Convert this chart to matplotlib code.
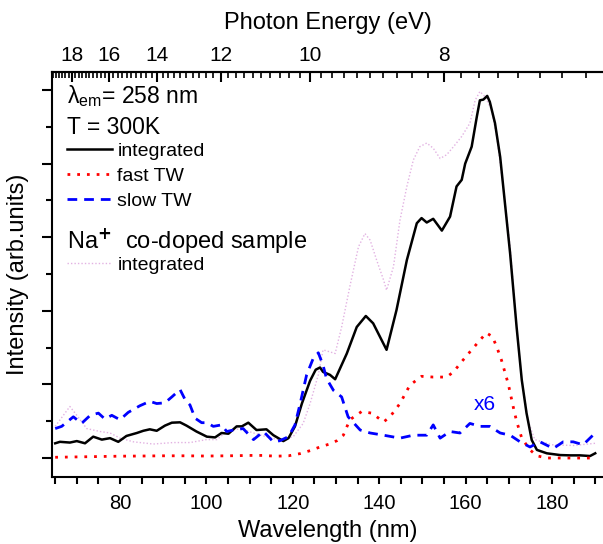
import matplotlib
matplotlib.use('Agg')
import matplotlib.pyplot as plt
import numpy as np
from matplotlib.ticker import MultipleLocator, FixedLocator, NullFormatter
from matplotlib.lines import Line2D

plt.rcParams['font.family'] = ['Liberation Sans', 'DejaVu Sans']
plt.rcParams['mathtext.fontset'] = 'custom'
plt.rcParams['mathtext.rm'] = 'Liberation Sans'
plt.rcParams['mathtext.it'] = 'Liberation Sans'

# integrated (black)
bx = [65, 66.1, 68.4, 70, 71.9, 73.8, 75.8, 77.7, 79.6, 81.5, 83.9, 85.4, 86.9, 88.5, 90.4,
      92, 93.9, 95.4, 97.7, 100.1, 102, 103.5, 105.1, 107, 108.2, 109.7, 111.6, 113.9, 115.5, 117.8,
      119, 120.5, 122.1, 124, 125.3, 126.3, 127, 128.6, 129.8, 132.5, 134.8, 136.9, 138.6, 141.7, 144,
      146.4, 148.7, 149.8, 151, 152.5, 154.5, 156.4, 157.9, 159.1, 159.9, 161.4, 162.6, 163.3, 164.1, 165,
      165.6, 166.8, 168, 170.3, 171.8, 173, 174.1, 175.3, 176.5, 178.8, 181.9, 184.2, 186.5, 188.8, 190]
by = [0.20, 0.22, 0.21, 0.23, 0.20, 0.29, 0.25, 0.27, 0.22, 0.30, 0.34, 0.37, 0.39, 0.37, 0.44,
      0.48, 0.485, 0.44, 0.36, 0.29, 0.28, 0.34, 0.33, 0.43, 0.43, 0.48, 0.38, 0.39, 0.31, 0.23,
      0.27, 0.43, 0.74, 1.05, 1.20, 1.23, 1.17, 1.13, 1.07, 1.42, 1.78, 1.93, 1.83, 1.47, 2.01,
      2.69, 3.19, 3.26, 3.20, 3.25, 3.09, 3.28, 3.69, 3.78, 4.0, 4.23, 4.64, 4.86, 4.87, 4.92,
      4.84, 4.55, 4.09, 2.78, 1.78, 1.06, 0.61, 0.245, 0.11, 0.064, 0.04, 0.036, 0.036, 0.027, 0.064]

# fast TW (red)
rx = [65, 70, 75, 80, 85, 90, 95, 100, 105, 110, 113, 116, 119, 121.7, 124,
      126.3, 128.5, 130.2, 131.7, 133.2, 135.9, 138.3, 141, 142.5, 144.8, 147.1, 149.8, 152.5, 155.6, 157.2,
      159.1, 161.4, 163.3, 164.8, 166.2, 167.2, 168.3, 169.9, 171, 171.8, 173, 174.9, 176.5, 178.8, 182,
      186, 190]
ry = [0.01, 0.015, 0.02, 0.025, 0.027, 0.03, 0.03, 0.027, 0.03, 0.035, 0.035, 0.025, 0.03, 0.06, 0.10,
      0.15, 0.19, 0.235, 0.31, 0.52, 0.63, 0.61, 0.49, 0.56, 0.74, 0.99, 1.11, 1.10, 1.10, 1.17,
      1.31, 1.47, 1.60, 1.70, 1.65, 1.51, 1.33, 1.0, 0.7, 0.5, 0.27, 0.11, 0.03, 0.0, 0.0,
      0.0, 0.0]

# slow TW x6 (blue)
ux = [65, 66.5, 69.2, 71.1, 73.1, 75, 76.5, 78.1, 80, 81.9, 84.6, 86.9, 88.5, 90.4, 92,
      93.9, 95.1, 96.2, 97.4, 98.9, 100.1, 101.6, 103.5, 104.7, 106.2, 108.5, 110.9, 113.2, 115.5, 117,
      119, 120.5, 121.7, 123.2, 124.7, 125.9, 127, 127.8, 129.4, 131.3, 132.8, 135.6, 137.9, 141, 144.8,
      147.9, 151, 152.5, 154.1, 156.4, 158.7, 161, 163.3, 165.6, 168, 170.3, 172.6, 174.9, 177.2, 180.3,
      182.6, 184.9, 187.2, 190]
uy = [0.40, 0.43, 0.56, 0.47, 0.58, 0.61, 0.53, 0.58, 0.52, 0.62, 0.71, 0.77, 0.74, 0.75, 0.83,
      0.93, 0.79, 0.72, 0.54, 0.48, 0.48, 0.43, 0.45, 0.36, 0.38, 0.40, 0.25, 0.36, 0.22, 0.235,
      0.29, 0.45, 0.74, 1.13, 1.35, 1.43, 1.26, 1.08, 0.92, 0.83, 0.56, 0.38, 0.34, 0.31, 0.27,
      0.31, 0.31, 0.45, 0.27, 0.36, 0.34, 0.47, 0.43, 0.43, 0.34, 0.31, 0.22, 0.15, 0.22, 0.13,
      0.22, 0.22, 0.18, 0.34]

# Na+ co-doped integrated (pink)
px = [65, 68.4, 70, 72.3, 75.4, 77.7, 80, 83.1, 87.7, 92.3, 96.2, 100, 102.4, 104.7, 107.8,
      110.9, 113.9, 117, 120.1, 122.4, 124, 125.9, 127, 129.8, 131.3, 133.2, 135.2, 136.7, 137.9, 139.4,
      141, 141.7, 143.3, 144.8, 146.4, 147.9, 149.4, 151, 152.5, 154.1, 155.6, 157.2, 159.1, 161, 162.2,
      163.3, 164.5, 166, 167.2, 168.7, 170.3, 171.8, 173, 174.5, 176, 180, 185, 190]
py = [0.43, 0.70, 0.58, 0.40, 0.36, 0.34, 0.27, 0.22, 0.19, 0.21, 0.21, 0.25, 0.25, 0.36, 0.40,
      0.34, 0.29, 0.245, 0.29, 0.47, 0.74, 1.13, 1.47, 1.42, 1.78, 2.33, 2.87, 3.05, 2.96, 2.69,
      2.42, 2.28, 2.60, 3.23, 3.69, 4.05, 4.23, 4.28, 4.21, 4.07, 4.12, 4.23, 4.37, 4.55, 4.86,
      4.98, 4.91, 4.73, 4.37, 3.69, 2.87, 1.78, 1.06, 0.5, 0.25, 0.18, 0.17, 0.2]

ev_ticks = [8, 10, 12, 14, 16, 18]

fig = plt.figure(figsize=(6.03, 5.44), dpi=100)
ax = fig.add_axes([52/603, 1 - 477/544, 551/603, 405/544])

ax.plot(px, py, color='#e2b2e2', lw=1.0, ls=(0, (1, 1.5)))
l_int, = ax.plot(bx, by, color='black', lw=1.8)
l_fast, = ax.plot(rx, ry, color='#ff0000', lw=2.0, ls=(0, (1, 2.5)))
l_slow, = ax.plot(ux, uy, color='#0000ff', lw=2.0, ls=(0, (3.5, 2.5)))

ax.set_xlim(64.26, 191.8)
ax.set_ylim(-0.258, 5.245)

for s in ['top', 'left', 'bottom']:
    ax.spines[s].set_linewidth(1.5)
ax.spines['right'].set_visible(False)

ax.xaxis.set_major_locator(MultipleLocator(20))
ax.xaxis.set_minor_locator(MultipleLocator(5))
ax.yaxis.set_major_locator(MultipleLocator(1))
ax.yaxis.set_minor_locator(MultipleLocator(0.5))
ax.yaxis.set_major_formatter(NullFormatter())
ax.tick_params(axis='x', which='major', direction='out', length=5, width=1.5, labelsize=14.5, pad=7)
ax.tick_params(axis='x', which='minor', direction='out', length=5, width=1.5)
ax.tick_params(axis='y', which='major', direction='out', length=7, width=1.5)
ax.tick_params(axis='y', which='minor', direction='out', length=4, width=1.5)
ax.set_xlabel('Wavelength (nm)', fontsize=17, labelpad=5)
ax.set_ylabel('Intensity (arb.units)', fontsize=17, labelpad=6)

def to_ev(x):
    x = np.asarray(x, dtype=float)
    return 1239.84 / np.where(x == 0, 1e-9, x)

secax = ax.secondary_xaxis('top', functions=(to_ev, to_ev))
secax.set_xticks(ev_ticks)
secax.xaxis.set_minor_locator(FixedLocator(np.arange(6.4, 19.5, 0.2)))
secax.tick_params(axis='x', which='major', direction='in', length=7, width=1.5, labelsize=15, pad=5)
secax.tick_params(axis='x', which='minor', direction='in', length=4, width=1.2)
secax.spines['top'].set_linewidth(1.5)
secax.set_xlabel('Photon Energy (eV)', fontsize=17, labelpad=12)

ax.text(0.027, 0.941, r'$\lambda_{\mathrm{em}}$= 258 nm', transform=ax.transAxes,
        fontsize=16.5, va='center', ha='left')
ax.text(0.027, 0.864, 'T = 300K', transform=ax.transAxes, fontsize=16.5, va='center', ha='left')
ax.text(0.027, 0.583, r'Na$^{\mathbf{+}}$  co-doped sample', transform=ax.transAxes, fontsize=17,
        va='center', ha='left')
ax.text(0.786, 0.180, 'x6', transform=ax.transAxes, fontsize=15, color='#0000ff',
        va='center', ha='center')

leg1 = ax.legend([l_int, l_fast, l_slow], ['integrated', 'fast TW', 'slow TW'],
                 loc='upper left', bbox_to_anchor=(0.027, 0.826), frameon=False,
                 fontsize=14, borderpad=0, borderaxespad=0, handlelength=2.3,
                 handletextpad=0.3, labelspacing=0.38)
ax.add_artist(leg1)
pink_h = Line2D([], [], color='#e2b2e2', lw=1.0, ls=(0, (1, 1.5)))
ax.legend([pink_h], ['integrated'], loc='upper left', bbox_to_anchor=(0.027, 0.545),
          frameon=False, fontsize=14, borderpad=0, borderaxespad=0, handlelength=2.3,
          handletextpad=0.3)

fig.savefig('out.png', dpi=100)
